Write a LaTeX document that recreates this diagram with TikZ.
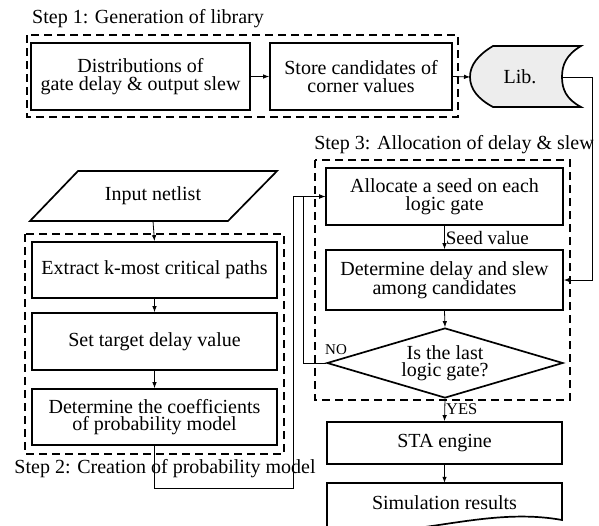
\documentclass[tikz,border=0pt]{standalone}
\usepackage{fontspec}
\setmainfont{Liberation Serif}
\usetikzlibrary{arrows.meta,shapes.geometric}

\begin{document}
\begin{tikzpicture}[x=1pt,y=-1pt,
  txt/.style={font=\fontsize{20}{17.5}\selectfont, align=center, inner sep=0pt},
  smalltxt/.style={font=\fontsize{16.5}{16.5}\selectfont, inner sep=1pt},
  box/.style={txt, draw, line width=1.7pt},
  dashbox/.style={line width=2.2pt, dash pattern=on 8pt off 5pt},
  arr/.style={line width=0.8pt, -{Latex[length=6pt,width=4.5pt]}},
  wire/.style={line width=0.8pt}]

\useasboundingbox (0,0) rectangle (599,525);

%%%%%%%%%%%%%%%%%%%%%%%%%%%% step 1 %%%%%%%%%%%%%%%%%%%%
\node[txt] (steplib) at (148,19) {Step 1: Generation of library};
\draw[dashbox] (27,35) rectangle (458,117);
\node[box, minimum width=219, minimum height=67] (dist) at (140.5,76.5) {Distributions of\\gate delay \& output slew};
\node[box, minimum width=182, minimum height=67] (store) at (361,76.5) {Store candidates of\\corner values};

% library symbol
\draw[line width=1.7pt, fill=black!7] (493,46) -- (581,46) .. controls (566,55) and (562,65) .. (562,77)
  .. controls (562,89) and (566,99) .. (581,107) -- (493,107)
  .. controls (478,99) and (470,89) .. (470,77) .. controls (470,65) and (478,55) .. (493,46) -- cycle;
\node[txt] (lib) at (520,77) {Lib.};
\coordinate (libin) at (470,77); \coordinate (libout) at (562,77);

\draw[arr] (dist.east) -- (store.west); \draw[arr] (store.east) -- (libin);

%%%%%%%%%%%%%%%%%%%%%%%%%%%% step 2 %%%%%%%%%%%%%%%%%%%%
\draw[line width=1.7pt] (78,171) -- (277,171) -- (228,221) -- (30,221) -- cycle;
\node[txt, minimum width=150, minimum height=50] (input) at (153,196) {Input netlist};

\draw[dashbox] (25,234) rectangle (284,454);
\node[box, minimum width=245, minimum height=56] (extract) at (154.5,270) {Extract k-most critical paths};
\node[box, minimum width=245, minimum height=57] (target) at (154.5,341.5) {Set target delay value};
\node[box, minimum width=245, minimum height=56] (coef) at (154.5,417) {Determine the coefficients\\of probability model};
\node[txt] (stepmodel) at (165,469) {Step 2: Creation of probability model};

\draw[arr] (input.south) -- (extract.north);
\draw[arr] (extract.south) -- (target.north); \draw[arr] (target.south) -- (coef.north);

%%%%%%%%%%%%%%%%%%%%%%%%%%%% step 3 %%%%%%%%%%%%%%%%%%%%
\node[txt] (stepalloc) at (454,145) {Step 3: Allocation of delay \& slew};
\draw[dashbox] (315,160) rectangle (570,400);
\node[box, minimum width=237, minimum height=57] (alloc) at (444.5,196.5) {Allocate a seed on each\\logic gate};
\node[box, minimum width=237, minimum height=60] (det) at (444.5,280) {Determine delay and slew\\among candidates};
\node[txt, draw, line width=1.7pt, diamond, aspect=3.4, minimum width=236, minimum height=70] (last) at (445,363) {Is the last\\logic gate?};

\draw[arr] (alloc.south) -- node[smalltxt, right, font=\fontsize{19}{19}\selectfont] {Seed value} (det.north);
\draw[arr] (det.south) -- (last.north);
\draw[arr] (libout) -- (592,77) |- (det.east);

% back to the seed
\node[smalltxt, font=\fontsize{15}{15}\selectfont] (nolab) at (336,350) {NO};
\draw[arr] (last.west) -- ++(-23,0) |- (alloc.west);
\draw[arr] (coef.south) |- (293,488) |- (alloc.west);

%%%%%%%%%%%%%%%%%%%%%%%%%%%% STA %%%%%%%%%%%%%%%%%%%%
\node[box, minimum width=235, minimum height=42] (sta) at (444.5,443) {STA engine};
\draw[line width=1.7pt] (327,527) -- (327,483) -- (562,483) -- (562,520)
  .. controls (480,505) and (400,545) .. (327,527);
\node[txt, minimum width=200, minimum height=40] (sim) at (444.5,503) {Simulation results};

\draw[arr] (last.south) -- node[smalltxt, right, pos=0.45] {YES} (sta.north);
\draw[arr] (sta.south) -- (sim.north);

\end{tikzpicture}
\end{document}
